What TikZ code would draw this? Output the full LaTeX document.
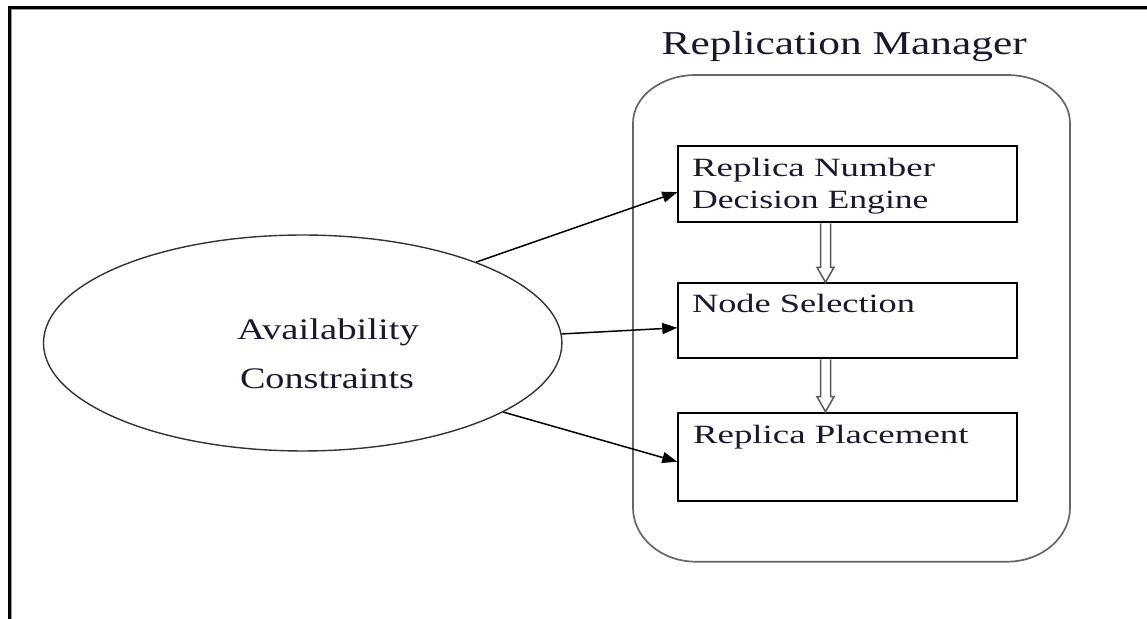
\documentclass[tikz,border=0pt]{standalone}
\usepackage{fontspec}
\usepackage{graphicx}
\setmainfont{Liberation Serif}
\usetikzlibrary{arrows.meta,calc,shapes.geometric}
\definecolor{textc}{RGB}{25,25,45}
\tikzset{
  ell/.style={ellipse, draw=black!80, line width=0.028cm, minimum width=10.37cm, minimum height=4.32cm, inner sep=0pt},
  box/.style={rectangle, draw=black, line width=0.04cm, minimum width=6.77cm, inner sep=0pt},
  boxtext/.style={anchor=base west, inner sep=0pt, text=textc, font=\fontsize{15}{18}\selectfont},
  elltext/.style={anchor=base, inner sep=0pt, text=textc, font=\fontsize{17}{20}\selectfont},
  titletext/.style={anchor=base, inner sep=0pt, text=textc, font=\fontsize{19}{23}\selectfont},
  arr/.style={draw=black, line width=0.03cm, -{Triangle[length=0.3cm,width=0.22cm]}},
  hollow/.style={draw=black!65, line width=0.03cm, fill=white, line join=miter},
  container/.style={draw=black!60, line width=0.034cm},
  frame/.style={draw=black, line width=0.06cm},
  frameshade/.style={draw=black!40, line width=0.02cm}
}
\begin{document}
\begin{tikzpicture}[x=0.02cm,y=0.02cm]
\useasboundingbox (0,0) rectangle (1147,619);
% frame
\draw[frameshade] (11.5,0) -- (11.5,609.5) -- (1147,609.5);
\draw[frame] (9.5,0) -- (9.5,611.5) -- (1147,611.5);
% container
\draw[container] (696,544) -- (1007,544)
  arc[start angle=90,end angle=0,x radius=63,y radius=48] -- (1070,111.3)
  arc[start angle=0,end angle=-90,x radius=63,y radius=54] -- (696,57.3)
  arc[start angle=270,end angle=180,x radius=63,y radius=54] -- (633,496)
  arc[start angle=180,end angle=90,x radius=63,y radius=48] -- cycle;
\node[titletext] (title) at (844.2,564) {\resizebox{7.30cm}{\height}{Replication Manager}};
% boxes
\node[box, minimum height=1.526cm] (b1) at (847.5,434.85) {};
\node[box, minimum height=1.5cm] (b2) at (847.5,298.2) {};
\node[box, minimum height=1.76cm] (b3) at (847.5,162.3) {};
\node[boxtext] (t1a) at (691.7,442.3) {\resizebox{4.86cm}{\height}{Replica Number}};
\node[boxtext] (t1b) at (691.7,410.7) {\resizebox{4.73cm}{\height}{Decision Engine}};
\node[boxtext] (t2) at (691.7,306.3) {\resizebox{4.46cm}{\height}{Node Selection}};
\node[boxtext] (t3) at (692.7,175.7) {\resizebox{5.51cm}{\height}{Replica Placement}};
% ellipse
\node[ell] (ac) at (302.7,276) {};
\node[elltext] (ac1) at (328,279.5) {\resizebox{3.64cm}{\height}{Availability}};
\node[elltext] (ac2) at (327,230.5) {\resizebox{3.48cm}{\height}{Constraints}};
% arrows
\draw[arr] (ac.25.3) -- ($(b1.west)+(0,-8)$);
\draw[arr] (ac.2.5) -- ($(b2.west)+(0,-7)$);
\draw[arr] (ac.-19.3) -- ($(b3.west)+(0,-5)$);
% hollow double arrows
\draw[hollow] ($(b1.south)+(-27,0)$) -- ($(b2.north)+(-27,15)$) -- ($(b2.north)+(-30.5,15)$)
  -- ($(b2.north)+(-22,0)$) -- ($(b2.north)+(-13.5,15)$) -- ($(b2.north)+(-17,15)$) -- ($(b1.south)+(-17,0)$);
\draw[hollow] ($(b2.south)+(-27,0)$) -- ($(b3.north)+(-27,15)$) -- ($(b3.north)+(-30.5,15)$)
  -- ($(b3.north)+(-22,0)$) -- ($(b3.north)+(-13.5,15)$) -- ($(b3.north)+(-17,15)$) -- ($(b2.south)+(-17,0)$);
\end{tikzpicture}
\end{document}
